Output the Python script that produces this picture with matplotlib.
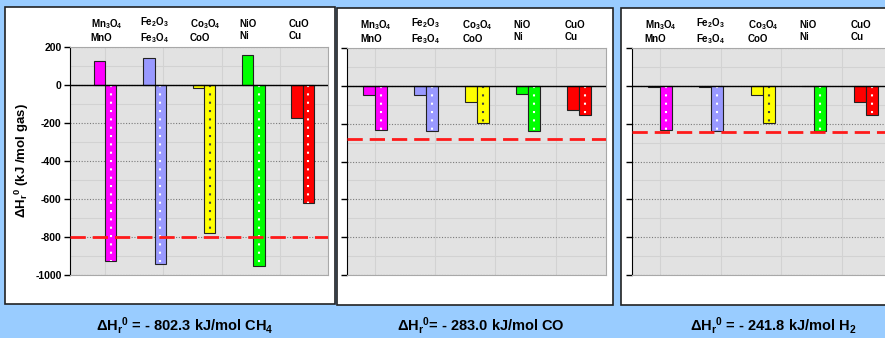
import numpy as np
import matplotlib
matplotlib.use('Agg')
import matplotlib.pyplot as plt
from matplotlib.patches import Rectangle
from matplotlib.ticker import MultipleLocator

plt.rcParams['font.family'] = ['Liberation Sans', 'DejaVu Sans']
plt.rcParams['font.weight'] = 'bold'
plt.rcParams['axes.unicode_minus'] = False
plt.rcParams['mathtext.fontset'] = 'custom'
plt.rcParams['mathtext.rm'] = 'Liberation Sans:bold'
plt.rcParams['mathtext.bf'] = 'Liberation Sans:bold'
plt.rcParams['mathtext.it'] = 'Liberation Sans:bold'
plt.rcParams['mathtext.default'] = 'bf'

# oxide pairs (upper / lower oxidation state)
pair_top = ['Mn$_3$O$_4$', 'Fe$_2$O$_3$', 'Co$_3$O$_4$', 'NiO', 'CuO']
pair_bot = ['MnO', 'Fe$_3$O$_4$', 'CoO', 'Ni', 'Cu']
colors = ['#FF00FF', '#9999FF', '#FFFF00', '#00FF00', '#FF0000']
dot_colors = ['white', 'white', '#404040', 'white', 'white']

# reduction (fuel side) and oxidation (air side) reaction enthalpies, kJ/mol gas
ch4_red = [125, 140, -17, 158, -175]
ch4_ox = [-925, -940, -780, -955, -620]
co_red = [-51, -47, -86, -44, -126]
co_ox = [-232, -237, -196, -240, -156]
h2_red = [-8, -4, -47, -2, -86]
h2_ox = [-232, -237, -196, -240, -156]

# combustion enthalpy of each fuel
fuel_dh = [-802.3, -283.0, -241.8]
captions = ['ΔH$_r$$^0$ = - 802.3 kJ/mol CH$_4$',
            'ΔH$_r$$^0$= - 283.0 kJ/mol CO',
            'ΔH$_r$$^0$ = - 241.8 kJ/mol H$_2$']

W, H = 885, 338
fig = plt.figure(figsize=(W / 100, H / 100), dpi=100)
fig.patch.set_facecolor('#99CCFF')

def px_rect(x0, y0, x1, y1):
    return [x0 / W, 1 - y1 / H, (x1 - x0) / W, (y1 - y0) / H]

# white panels
for (x0, y0, x1, y1) in [(5, 7, 335, 304), (337, 8, 613, 305), (621, 8, 900, 305)]:
    r = Rectangle((x0 / W, 1 - y1 / H), (x1 - x0) / W, (y1 - y0) / H,
                  transform=fig.transFigure, facecolor='white',
                  edgecolor='#222222', lw=1.2, zorder=-5)
    fig.patches.append(r)

panels = [
    (px_rect(70, 47, 328, 275), (-0.71, 4.51), ch4_red, ch4_ox, 185),
    (px_rect(347, 48, 606, 275), (-0.55, 4.53), co_red, co_ox, 481),
    (px_rect(632, 48, 895, 275), (-0.54, 4.57), h2_red, h2_ox, 773),
]

bw = 0.23
x = np.arange(len(pair_top))

for k, (pos, xl, red, ox, cap_x) in enumerate(panels):
    ax = fig.add_axes(pos)
    ax.set_facecolor('#E2E2E2')
    ax.set_xlim(*xl)
    ax.set_ylim(-1000, 200)

    # background texture-ish grid
    ax.xaxis.set_minor_locator(MultipleLocator(1.18))
    ax.yaxis.set_minor_locator(MultipleLocator(100))
    ax.grid(which='minor', color='#D2D2D2', lw=0.8)
    ax.yaxis.set_major_locator(MultipleLocator(200))
    ax.grid(which='major', axis='y', color='#7A7A7A', lw=0.8, linestyle=(0, (1, 1.5)))
    ax.set_axisbelow(True)
    ax.set_xticks([])
    ax.tick_params(axis='y', which='major', direction='out', length=4,
                   width=1, color='black', labelsize=7.5, pad=2)
    ax.tick_params(which='minor', length=0)
    for s in ['top', 'right', 'bottom']:
        ax.spines[s].set_color('#A8A8A8')
    ax.spines['left'].set_color('black')

    ax.bar(x - bw / 2, red, bw, color=colors, edgecolor='#222222', lw=0.8, zorder=3)
    ax.bar(x + bw / 2, ox, bw, color=colors, edgecolor='#222222', lw=0.8, zorder=3)
    for i in range(len(x)):
        ax.plot([x[i] + bw / 2, x[i] + bw / 2], [0, ox[i]], color=dot_colors[i],
                lw=1.5, linestyle=(0, (1, 3)), zorder=4)

    ax.axhline(0, color='black', lw=1, zorder=5)
    ax.axhline(fuel_dh[k], color='#FF1A1A', lw=2, dashes=(5.5, 2.5), zorder=6)

    if k == 0:
        ax.set_ylabel('ΔH$_r$$^0$ (kJ /mol gas)', fontsize=9.5, fontweight='bold',
                      labelpad=3)
        for t in ax.get_yticklabels():
            t.set_fontweight('bold')
    else:
        ax.set_yticklabels([])

    trans = ax.get_xaxis_transform()
    for i in range(len(x)):
        ax.text(x[i] - bw - 0.06, 1.075, pair_top[i] + '\n' + pair_bot[i],
                transform=trans, ha='left', va='center', fontsize=7,
                fontweight='bold', linespacing=1.25)

    fig.text(cap_x / W, 1 - 326 / H, captions[k], ha='center', va='center',
             fontsize=10.5, fontweight='bold')

fig.savefig('out.png', dpi=100, facecolor=fig.get_facecolor())
